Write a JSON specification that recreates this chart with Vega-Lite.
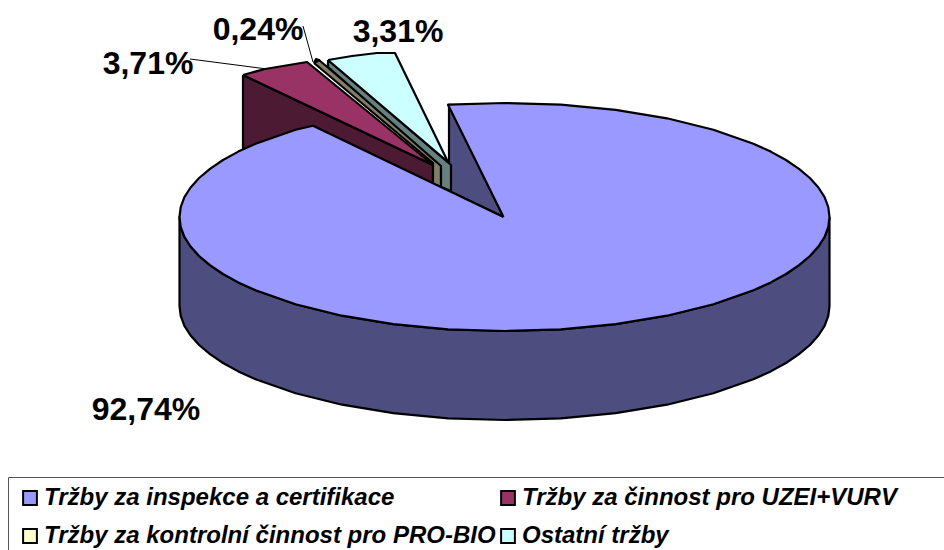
{"$schema":"https://vega.github.io/schema/vega-lite/v6.json","width":944,"height":550,"padding":0,"autosize":{"type":"none"},"background":"white","view":{"stroke":null},
"datasets":{
"walls":[
{"part":"main-rim","seq":1,"x":829.5,"y":217},{"part":"main-rim","seq":1.5,"x":828.3,"y":226.9},{"part":"main-rim","seq":2,"x":824.6,"y":236.8},{"part":"main-rim","seq":2.5,"x":818.4,"y":246.5},{"part":"main-rim","seq":3,"x":809.9,"y":256},{"part":"main-rim","seq":3.5,"x":799,"y":265.2},{"part":"main-rim","seq":4,"x":786,"y":274},{"part":"main-rim","seq":4.5,"x":770.7,"y":282.4},{"part":"main-rim","seq":5,"x":753.4,"y":290.3},{"part":"main-rim","seq":6,"x":713.4,"y":304.3},{"part":"main-rim","seq":7,"x":667,"y":315.7},{"part":"main-rim","seq":8,"x":615.7,"y":324.1},{"part":"main-rim","seq":9,"x":560.9,"y":329.3},{"part":"main-rim","seq":10,"x":504.5,"y":331},{"part":"main-rim","seq":11,"x":448.1,"y":329.3},{"part":"main-rim","seq":12,"x":393.3,"y":324.1},{"part":"main-rim","seq":13,"x":342,"y":315.7},{"part":"main-rim","seq":14,"x":295.6,"y":304.3},{"part":"main-rim","seq":15,"x":255.6,"y":290.3},{"part":"main-rim","seq":15.5,"x":238.3,"y":282.4},{"part":"main-rim","seq":16,"x":223,"y":274},{"part":"main-rim","seq":16.5,"x":210,"y":265.2},{"part":"main-rim","seq":17,"x":199.1,"y":256},{"part":"main-rim","seq":17.5,"x":190.6,"y":246.5},{"part":"main-rim","seq":18,"x":184.4,"y":236.8},{"part":"main-rim","seq":18.5,"x":180.7,"y":226.9},{"part":"main-rim","seq":19,"x":179.5,"y":217},
{"part":"main-rim","seq":20,"x":179.5,"y":306},{"part":"main-rim","seq":20.5,"x":180.7,"y":315.9},{"part":"main-rim","seq":21,"x":184.4,"y":325.8},{"part":"main-rim","seq":21.5,"x":190.6,"y":335.5},{"part":"main-rim","seq":22,"x":199.1,"y":345},{"part":"main-rim","seq":22.5,"x":210,"y":354.2},{"part":"main-rim","seq":23,"x":223,"y":363},{"part":"main-rim","seq":23.5,"x":238.3,"y":371.4},{"part":"main-rim","seq":24,"x":255.6,"y":379.3},{"part":"main-rim","seq":25,"x":295.6,"y":393.3},{"part":"main-rim","seq":26,"x":342,"y":404.7},{"part":"main-rim","seq":27,"x":393.3,"y":413.1},{"part":"main-rim","seq":28,"x":448.1,"y":418.3},{"part":"main-rim","seq":29,"x":504.5,"y":420},{"part":"main-rim","seq":30,"x":560.9,"y":418.3},{"part":"main-rim","seq":31,"x":615.7,"y":413.1},{"part":"main-rim","seq":32,"x":667,"y":404.7},{"part":"main-rim","seq":33,"x":713.4,"y":393.3},{"part":"main-rim","seq":34,"x":753.4,"y":379.3},{"part":"main-rim","seq":34.5,"x":770.7,"y":371.4},{"part":"main-rim","seq":35,"x":786,"y":363},{"part":"main-rim","seq":35.5,"x":799,"y":354.2},{"part":"main-rim","seq":36,"x":809.9,"y":345},{"part":"main-rim","seq":36.5,"x":818.4,"y":335.5},{"part":"main-rim","seq":37,"x":824.6,"y":325.8},{"part":"main-rim","seq":37.5,"x":828.3,"y":315.9},{"part":"main-rim","seq":38,"x":829.5,"y":306},{"part":"main-rim","seq":39,"x":829.5,"y":217},
{"part":"main-cut","seq":1,"x":449,"y":104},{"part":"main-cut","seq":2,"x":503.5,"y":217},{"part":"main-cut","seq":3,"x":449,"y":191},{"part":"main-cut","seq":4,"x":449,"y":104},
{"part":"maroon-cut","seq":1,"x":243,"y":75},{"part":"maroon-cut","seq":2,"x":243,"y":150},{"part":"maroon-cut","seq":3,"x":313,"y":126},{"part":"maroon-cut","seq":4,"x":433,"y":184},{"part":"maroon-cut","seq":5,"x":433,"y":165},{"part":"maroon-cut","seq":6,"x":243,"y":75},
{"part":"beige-cut","seq":1,"x":314,"y":63},{"part":"beige-cut","seq":2,"x":433,"y":163},{"part":"beige-cut","seq":3,"x":433,"y":184},{"part":"beige-cut","seq":4,"x":441,"y":187},{"part":"beige-cut","seq":5,"x":441,"y":163},{"part":"beige-cut","seq":6,"x":319,"y":60},{"part":"beige-cut","seq":7,"x":314,"y":63},
{"part":"teal-cut","seq":1,"x":328,"y":60},{"part":"teal-cut","seq":2,"x":328,"y":67},{"part":"teal-cut","seq":3,"x":441,"y":166},{"part":"teal-cut","seq":4,"x":441,"y":187},{"part":"teal-cut","seq":5,"x":451,"y":191},{"part":"teal-cut","seq":6,"x":451,"y":165},{"part":"teal-cut","seq":7,"x":328,"y":60}
],
"faces":[
{"series":"Tržby za inspekce a certifikace","seq":1,"x":503.5,"y":217},{"series":"Tržby za inspekce a certifikace","seq":2,"x":448,"y":104.7},{"series":"Tržby za inspekce a certifikace","seq":3,"x":504.5,"y":103},{"series":"Tržby za inspekce a certifikace","seq":4,"x":560.9,"y":104.7},{"series":"Tržby za inspekce a certifikace","seq":5,"x":615.7,"y":109.9},{"series":"Tržby za inspekce a certifikace","seq":6,"x":667,"y":118.3},{"series":"Tržby za inspekce a certifikace","seq":7,"x":713.4,"y":129.7},{"series":"Tržby za inspekce a certifikace","seq":8,"x":753.4,"y":143.7},{"series":"Tržby za inspekce a certifikace","seq":8.5,"x":770.7,"y":151.6},{"series":"Tržby za inspekce a certifikace","seq":9,"x":786,"y":160},{"series":"Tržby za inspekce a certifikace","seq":9.5,"x":799,"y":168.8},{"series":"Tržby za inspekce a certifikace","seq":10,"x":809.9,"y":178},{"series":"Tržby za inspekce a certifikace","seq":10.5,"x":818.4,"y":187.5},{"series":"Tržby za inspekce a certifikace","seq":11,"x":824.6,"y":197.2},{"series":"Tržby za inspekce a certifikace","seq":11.5,"x":828.3,"y":207.1},{"series":"Tržby za inspekce a certifikace","seq":12,"x":829.5,"y":217},{"series":"Tržby za inspekce a certifikace","seq":12.5,"x":828.3,"y":226.9},{"series":"Tržby za inspekce a certifikace","seq":13,"x":824.6,"y":236.8},{"series":"Tržby za inspekce a certifikace","seq":13.5,"x":818.4,"y":246.5},{"series":"Tržby za inspekce a certifikace","seq":14,"x":809.9,"y":256},{"series":"Tržby za inspekce a certifikace","seq":14.5,"x":799,"y":265.2},{"series":"Tržby za inspekce a certifikace","seq":15,"x":786,"y":274},{"series":"Tržby za inspekce a certifikace","seq":15.5,"x":770.7,"y":282.4},{"series":"Tržby za inspekce a certifikace","seq":16,"x":753.4,"y":290.3},{"series":"Tržby za inspekce a certifikace","seq":17,"x":713.4,"y":304.3},{"series":"Tržby za inspekce a certifikace","seq":18,"x":667,"y":315.7},{"series":"Tržby za inspekce a certifikace","seq":19,"x":615.7,"y":324.1},{"series":"Tržby za inspekce a certifikace","seq":20,"x":560.9,"y":329.3},{"series":"Tržby za inspekce a certifikace","seq":21,"x":504.5,"y":331},{"series":"Tržby za inspekce a certifikace","seq":22,"x":448.1,"y":329.3},{"series":"Tržby za inspekce a certifikace","seq":23,"x":393.3,"y":324.1},{"series":"Tržby za inspekce a certifikace","seq":24,"x":342,"y":315.7},{"series":"Tržby za inspekce a certifikace","seq":25,"x":295.6,"y":304.3},{"series":"Tržby za inspekce a certifikace","seq":26,"x":255.6,"y":290.3},{"series":"Tržby za inspekce a certifikace","seq":26.5,"x":238.3,"y":282.4},{"series":"Tržby za inspekce a certifikace","seq":27,"x":223,"y":274},{"series":"Tržby za inspekce a certifikace","seq":27.5,"x":210,"y":265.2},{"series":"Tržby za inspekce a certifikace","seq":28,"x":199.1,"y":256},{"series":"Tržby za inspekce a certifikace","seq":28.5,"x":190.6,"y":246.5},{"series":"Tržby za inspekce a certifikace","seq":29,"x":184.4,"y":236.8},{"series":"Tržby za inspekce a certifikace","seq":29.5,"x":180.7,"y":226.9},{"series":"Tržby za inspekce a certifikace","seq":30,"x":179.5,"y":217},{"series":"Tržby za inspekce a certifikace","seq":30.5,"x":180.7,"y":207.1},{"series":"Tržby za inspekce a certifikace","seq":31,"x":184.4,"y":197.2},{"series":"Tržby za inspekce a certifikace","seq":31.5,"x":190.6,"y":187.5},{"series":"Tržby za inspekce a certifikace","seq":32,"x":199.1,"y":178},{"series":"Tržby za inspekce a certifikace","seq":32.5,"x":210,"y":168.8},{"series":"Tržby za inspekce a certifikace","seq":33,"x":223,"y":160},{"series":"Tržby za inspekce a certifikace","seq":33.5,"x":238.3,"y":151.6},{"series":"Tržby za inspekce a certifikace","seq":34,"x":255.6,"y":143.7},{"series":"Tržby za inspekce a certifikace","seq":35,"x":295.6,"y":129.7},{"series":"Tržby za inspekce a certifikace","seq":36,"x":313,"y":125.7},{"series":"Tržby za inspekce a certifikace","seq":37,"x":503.5,"y":217},
{"series":"Tržby za činnost pro UZEI+VURV","seq":1,"x":243,"y":75},{"series":"Tržby za činnost pro UZEI+VURV","seq":2,"x":265,"y":69},{"series":"Tržby za činnost pro UZEI+VURV","seq":3,"x":307,"y":62},{"series":"Tržby za činnost pro UZEI+VURV","seq":4,"x":433,"y":165},{"series":"Tržby za činnost pro UZEI+VURV","seq":5,"x":243,"y":75},
{"series":"Tržby za kontrolní činnost pro PRO-BIO","seq":1,"x":314,"y":63},{"series":"Tržby za kontrolní činnost pro PRO-BIO","seq":2,"x":316,"y":59},{"series":"Tržby za kontrolní činnost pro PRO-BIO","seq":3,"x":319,"y":60},{"series":"Tržby za kontrolní činnost pro PRO-BIO","seq":4,"x":314,"y":63},
{"series":"Ostatní tržby","seq":1,"x":328,"y":60},{"series":"Ostatní tržby","seq":2,"x":352,"y":56},{"series":"Ostatní tržby","seq":3,"x":377,"y":53},{"series":"Ostatní tržby","seq":4,"x":395,"y":53},{"series":"Ostatní tržby","seq":5,"x":448,"y":162},{"series":"Ostatní tržby","seq":6,"x":328,"y":60}
],
"leaders":[
{"id":"a","seq":1,"x":190,"y":59},{"id":"a","seq":2,"x":267,"y":69},
{"id":"b","seq":1,"x":303,"y":26},{"id":"b","seq":2,"x":313,"y":62}
],
"labels":[
{"label":"92,74%","x":146,"y":410},{"label":"3,71%","x":148,"y":64},{"label":"0,24%","x":258,"y":30},{"label":"3,31%","x":398,"y":32}
]},
"layer":[
{"data":{"values":[{"x":8.5,"x2":960,"y":477.5,"y2":570}]},"mark":{"type":"rect","fill":"white","stroke":"#555","strokeWidth":1},
"encoding":{"x":{"field":"x","type":"quantitative","scale":{"domain":[0,944],"nice":false,"zero":false},"axis":null},"x2":{"field":"x2"},"y":{"field":"y","type":"quantitative","scale":{"domain":[550,0],"nice":false,"zero":false},"axis":null},"y2":{"field":"y2"}}},
{"data":{"name":"walls"},"mark":{"type":"line","stroke":"#000","strokeWidth":2.2,"strokeJoin":"round"},
"encoding":{"x":{"field":"x","type":"quantitative","axis":null},"y":{"field":"y","type":"quantitative","axis":null},"order":{"field":"seq"},"detail":{"field":"part"},
"fill":{"field":"part","type":"nominal","legend":null,"scale":{"domain":["main-rim","main-cut","maroon-cut","beige-cut","teal-cut"],"range":["#4D4D80","#4D4D80","#4D1A33","#808066","#668080"]}}}},
{"data":{"name":"faces"},"mark":{"type":"line","stroke":"#000","strokeWidth":2.2,"strokeJoin":"round"},
"encoding":{"x":{"field":"x","type":"quantitative","axis":null},"y":{"field":"y","type":"quantitative","axis":null},"order":{"field":"seq"},"detail":{"field":"series"},
"fill":{"field":"series","type":"nominal","sort":null,"scale":{"domain":["Tržby za inspekce a certifikace","Tržby za kontrolní činnost pro PRO-BIO","Tržby za činnost pro UZEI+VURV","Ostatní tržby"],"range":["#9999FF","#FFFFCC","#993366","#CCFFFF"]},
"legend":{"title":null,"orient":"none","legendX":18,"legendY":486,"columns":2,"symbolType":"square","symbolSize":190,"symbolStrokeColor":"#000","symbolStrokeWidth":2,"labelFont":"Liberation Sans","labelFontSize":24,"labelFontWeight":"bold","labelFontStyle":"italic","labelColor":"#000","labelLimit":600,"labelOffset":2,"rowPadding":14,"columnPadding":-6,"padding":0}}}},
{"data":{"name":"leaders"},"mark":{"type":"line","stroke":"#000","strokeWidth":1},
"encoding":{"x":{"field":"x","type":"quantitative","axis":null},"y":{"field":"y","type":"quantitative","axis":null},"order":{"field":"seq"},"detail":{"field":"id"}}},
{"data":{"name":"labels"},"mark":{"type":"text","font":"Liberation Sans","fontSize":32,"fontWeight":"bold","color":"#000","align":"center","baseline":"middle"},
"encoding":{"x":{"field":"x","type":"quantitative","axis":null},"y":{"field":"y","type":"quantitative","axis":null},"text":{"field":"label"}}}
],
"resolve":{"scale":{"fill":"independent"}}}
